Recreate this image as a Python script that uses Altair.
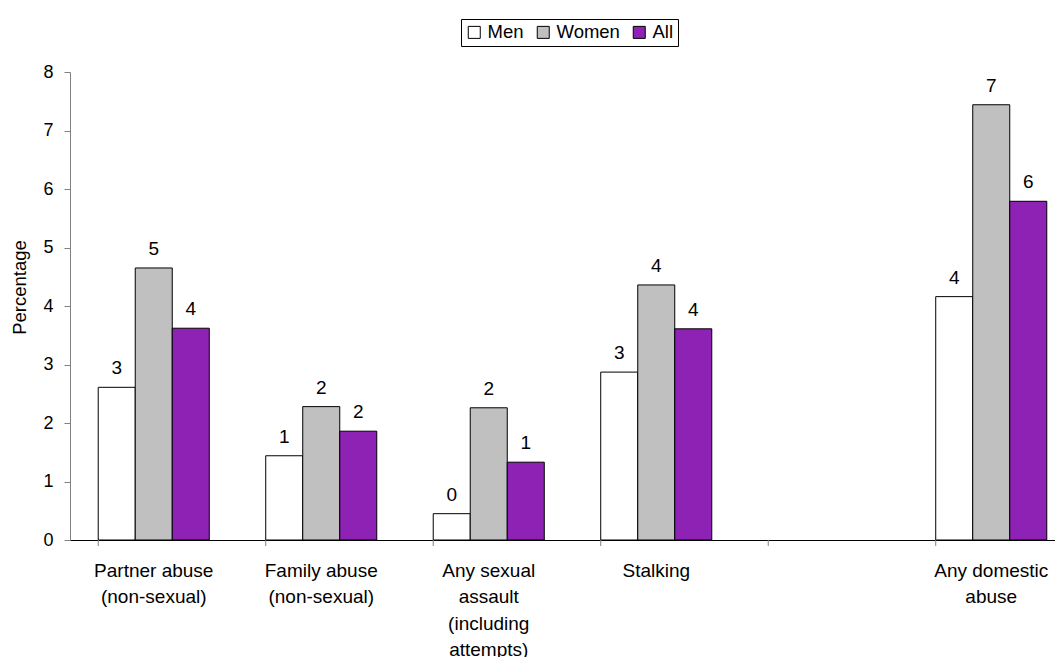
import altair as alt
import pandas as pd

categories = ["Partner abuse|(non-sexual)", "Family abuse|(non-sexual)",
              "Any sexual|assault|(including|attempts)", "Stalking", " ",
              "Any domestic|abuse"]
series = ["Men", "Women", "All"]
men = [2.61, 1.44, 0.45, 2.87, None, 4.16]
women = [4.65, 2.28, 2.26, 4.36, None, 7.44]
all_ = [3.62, 1.86, 1.33, 3.61, None, 5.79]
men_labels = ["3", "1", "0", "3", "", "4"]
women_labels = ["5", "2", "2", "4", "", "7"]
all_labels = ["4", "2", "1", "4", "", "6"]
colors = ["#FFFFFF", "#C0C0C0", "#8E22B4"]
y_ticks = [0, 1, 2, 3, 4, 5, 6, 7, 8]

rows = []
for s, vals, labs in zip(series, [men, women, all_], [men_labels, women_labels, all_labels]):
    for c, v, l in zip(categories, vals, labs):
        if v is not None:
            rows.append({"cat": c, "series": s, "value": v, "label": l})
df = pd.DataFrame(rows)
ticks_df = pd.DataFrame({"cat": categories})

FONT = "Liberation Sans"
FS = 19

xscale = alt.Scale(domain=categories, range=[0, 1005], paddingInner=0.337, paddingOuter=0.1685)
yscale = alt.Scale(domain=[0, 8], nice=False)

x_enc = alt.X("cat:N", scale=xscale, sort=categories,
              axis=alt.Axis(title=None, labelExpr="split(datum.label, '|')", labelAngle=0,
                            ticks=False, tickSize=0, labelPadding=21, labelLineHeight=26.5,
                            labelFont=FONT, labelFontSize=FS, labelColor="black",
                            domainColor="black", domainWidth=1, labelLimit=300))
xo = alt.XOffset("series:N", scale=alt.Scale(domain=series, paddingInner=0, paddingOuter=0))
y_enc = alt.Y("value:Q", scale=yscale,
              axis=alt.Axis(title="Percentage", values=y_ticks, format="d", grid=False, tickSize=6,
                            labelPadding=11, labelFont=FONT, labelFontSize=18, labelColor="black",
                            domainColor="#808080", tickColor="#808080",
                            titleFont=FONT, titleFontSize=18.5, titleFontWeight="normal",
                            titleColor="black", titleX=-51, titleY=215, titleAngle=-90,
                            titleAlign="center", titleBaseline="middle"))

bars = alt.Chart(df).mark_bar(stroke="black", strokeWidth=1).encode(
    x=x_enc, xOffset=xo, y=y_enc,
    fill=alt.Fill("series:N", scale=alt.Scale(domain=series, range=colors),
                  legend=alt.Legend(title=None, orient="none", legendX=391, legendY=-53,
                                    direction="horizontal", symbolType="square", symbolSize=144,
                                    symbolStrokeColor="black", symbolStrokeWidth=1,
                                    labelFont=FONT, labelFontSize=18.5, labelColor="black",
                                    labelOffset=4, columnPadding=10, padding=4,
                                    strokeColor="black")),
)

texts = alt.Chart(df).mark_text(dy=-13, baseline="alphabetic", font=FONT, fontSize=FS,
                                color="black").encode(
    x=alt.X("cat:N", scale=xscale, sort=categories), xOffset=xo,
    y=alt.Y("value:Q", scale=yscale), text="label:N")

xticks = alt.Chart(ticks_df).mark_rule(color="#808080", strokeWidth=1).encode(
    x=alt.X("cat:N", scale=xscale, sort=categories, bandPosition=0),
    y=alt.value(468), y2=alt.value(474))

chart = alt.layer(bars, xticks, texts).properties(
    width=985, height=468,
    autosize=alt.AutoSizeParams(type="none"),
    padding={"left": 62, "top": 64, "right": 0, "bottom": 117},
).configure_view(stroke=None)

chart.save("out.html", embed_options={"renderer": "svg", "actions": False})
